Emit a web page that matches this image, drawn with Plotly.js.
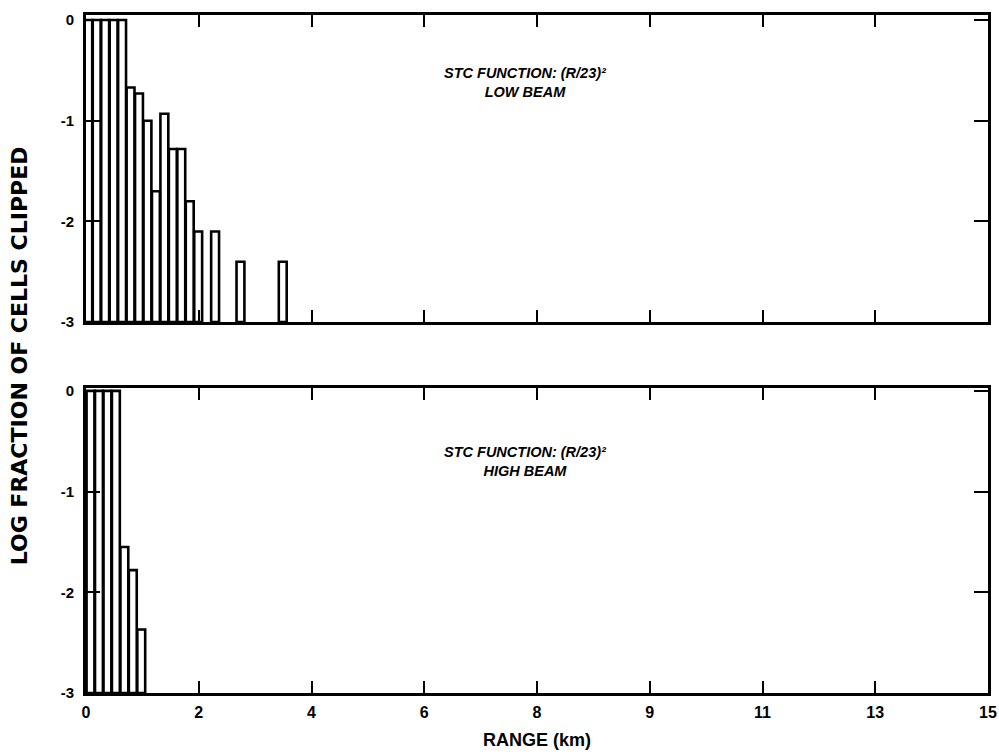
<!DOCTYPE html>
<html>
<head>
<meta charset="utf-8">
<script src="https://cdn.plot.ly/plotly-3.0.1.min.js"></script>
<style>html,body{margin:0;padding:0;background:#fff;}#chart{width:999px;height:755px;}</style>
</head>
<body>
<div id="chart"></div>
<script>
// Range bin centres (km) and log10 fraction of cells clipped
const rangeLow = [0.04, 0.19, 0.34, 0.49, 0.64, 0.79, 0.94, 1.09, 1.24, 1.39, 1.54, 1.69, 1.84, 1.99, 2.29, 2.74, 3.49];
const logFracLow = [0, 0, 0, 0, 0, -0.67, -0.73, -1.0, -1.7, -0.93, -1.28, -1.28, -1.8, -2.1, -2.1, -2.4, -2.4];
const rangeHigh = [0.08, 0.23, 0.38, 0.53, 0.68, 0.83, 0.98];
const logFracHigh = [0, 0, 0, 0, -1.55, -1.78, -2.37];
const logFloor = -3;
const xTickVals = [0, 2, 4, 6, 8, 10, 12, 14, 16];
const xTickText = ['0', '2', '4', '6', '8', '9', '11', '13', '15'];
const yTickVals = [0, -1, -2, -3];
const yTickText = ['0', '-1', '-2', '-3'];
const panelText = ['STC FUNCTION: (R/23)²<br>LOW BEAM', 'STC FUNCTION: (R/23)²<br>HIGH BEAM'];

const bold = {family: 'Liberation Sans, Arial, sans-serif', size: 16, color: '#000', weight: 700};
const italicBold = {family: 'Liberation Sans, Arial, sans-serif', size: 14.5, color: '#000', weight: 700, style: 'italic'};

function barTrace(x, v, xa, ya) {
  return {
    type: 'bar', x: x, y: v.map(d => d - logFloor), base: logFloor,
    width: 0.14, xaxis: xa, yaxis: ya,
    marker: {color: 'rgba(255,255,255,0)', line: {color: '#000', width: 2.6}},
    hoverinfo: 'skip', showlegend: false
  };
}

const traces = [
  barTrace(rangeLow, logFracLow, 'x', 'y'),
  barTrace(rangeHigh, logFracHigh, 'x2', 'y2')
];

const xBase = {
  range: [0, 16], tickvals: xTickVals, ticktext: xTickText,
  ticks: 'inside', ticklen: 12, tickwidth: 2, tickcolor: '#000',
  showline: true, linecolor: '#000', linewidth: 3, mirror: 'ticks',
  showgrid: false, zeroline: false, tickfont: bold, ticklabeloverflow: 'allow', ticklabelstandoff: 3
};
const yBase = {
  tickvals: yTickVals, ticktext: yTickText,
  ticks: 'inside', ticklen: 14, tickwidth: 2, tickcolor: '#000',
  showline: true, linecolor: '#000', linewidth: 3, mirror: 'ticks',
  showgrid: false, zeroline: false, tickfont: {...bold, size: 15}, ticklabelstandoff: 6
};

const layout = {
  width: 999, height: 755,
  margin: {l: 86, r: 11, t: 15, b: 62},
  paper_bgcolor: '#fff', plot_bgcolor: '#fff',
  bargap: 0,
  xaxis: {...xBase, anchor: 'y', showticklabels: false},
  yaxis: {...yBase, domain: [0.547, 1], range: [-3, 0.05], anchor: 'x'},
  xaxis2: {...xBase, anchor: 'y2', matches: 'x',
    title: {text: 'RANGE (km)', font: {...bold, size: 18}, standoff: 14}},
  yaxis2: {...yBase, domain: [0, 0.45], range: [-3, 0.03], anchor: 'x2'},
  annotations: [
    {text: panelText[0], x: 7.8, y: -0.62, xref: 'x', yref: 'y', showarrow: false, font: italicBold},
    {text: panelText[1], x: 7.8, y: -0.70, xref: 'x2', yref: 'y2', showarrow: false, font: italicBold},
    {text: 'LOG FRACTION OF CELLS CLIPPED', textangle: -90, x: -0.074, y: 0.497,
     xref: 'paper', yref: 'paper', xanchor: 'center', yanchor: 'middle', showarrow: false,
     font: {family: 'DejaVu Sans, sans-serif', size: 22, color: '#000', weight: 700}}
  ]
};

Plotly.newPlot('chart', traces, layout, {displayModeBar: false, staticPlot: true});
</script>
</body>
</html>
